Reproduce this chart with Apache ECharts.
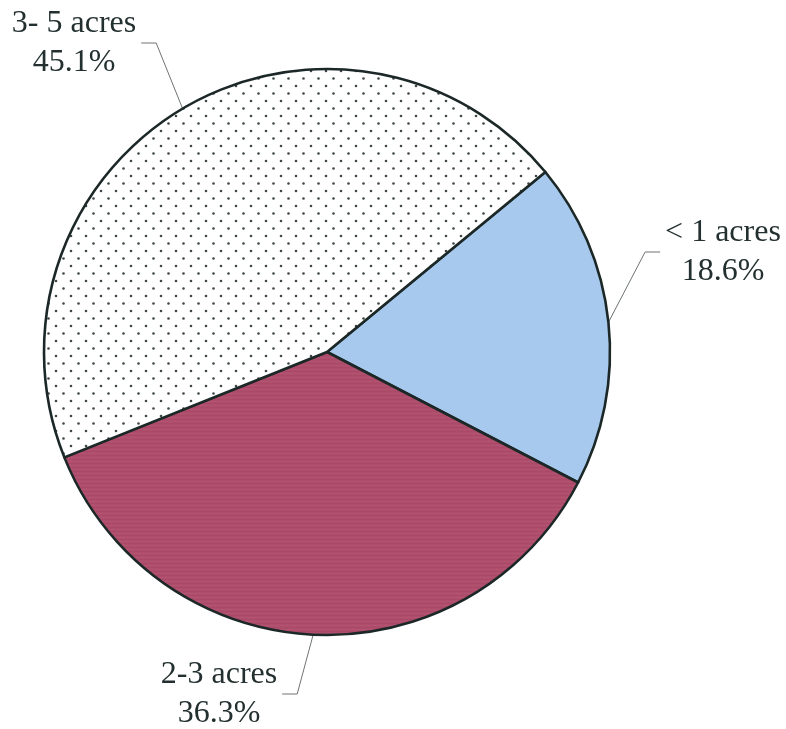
<!DOCTYPE html>
<html>
<head>
<meta charset="utf-8">
<script src="https://cdn.jsdelivr.net/npm/echarts@6/dist/echarts.min.js"></script>
<style>
  html, body { margin: 0; padding: 0; background: #ffffff; }
  #chart { width: 786px; height: 729px; }
</style>
</head>
<body>
<div id="chart"></div>
<script>
// Farm size classes and their share of holdings (%)
const categories = ['< 1 acres', '2-3 acres', '3- 5 acres'];
const shares = [18.6, 36.3, 45.1];

// Layout constants
const pieCenter = [327, 352];
const pieRadius = 283;
const labelCentres = [[723, 252], [219, 694], [74, 43]];
const leaderGap = 5;
const leaderLeg = 15;

// Dotted fill: staggered grid of small dark dots on white
function dotPattern() {
  const c = document.createElement('canvas');
  c.width = 15; c.height = 15;
  const g = c.getContext('2d');
  g.fillStyle = '#ffffff';
  g.fillRect(0, 0, 15, 15);
  g.fillStyle = '#3f4846';
  [[3.5, 3.5], [11, 11]].forEach(function (p) {
    g.beginPath();
    g.arc(p[0], p[1], 1.3, 0, Math.PI * 2);
    g.fill();
  });
  return c;
}

// Maroon fill with faint horizontal banding
function bandPattern() {
  const c = document.createElement('canvas');
  c.width = 8; c.height = 4;
  const g = c.getContext('2d');
  g.fillStyle = '#ae4e6c';
  g.fillRect(0, 0, 8, 4);
  g.fillStyle = '#b25372';
  g.fillRect(0, 1, 8, 1);
  g.fillStyle = '#aa4a68';
  g.fillRect(0, 3, 8, 1);
  return c;
}

const sliceFills = [
  '#a8c9ee',
  { image: bandPattern(), repeat: 'repeat' },
  { image: dotPattern(), repeat: 'repeat' }
];

const chart = echarts.init(document.getElementById('chart'), null, { renderer: 'canvas' });

chart.setOption({
  animation: false,
  backgroundColor: '#ffffff',
  series: [{
    type: 'pie',
    center: pieCenter,
    radius: pieRadius,
    startAngle: 39.5,
    clockwise: true,
    avoidLabelOverlap: false,
    silent: true,
    emphasis: { disabled: true },
    data: categories.map(function (name, i) {
      return { name: name, value: shares[i], itemStyle: { color: sliceFills[i] } };
    }),
    itemStyle: {
      borderColor: '#1c2827',
      borderWidth: 2.6
    },
    label: {
      show: true,
      position: 'outside',
      formatter: function (p) { return p.name + '\n' + p.value.toFixed(1) + '%'; },
      fontFamily: '"Liberation Serif", "Times New Roman", serif',
      fontSize: 32,
      lineHeight: 39,
      color: '#243030'
    },
    labelLine: {
      show: true,
      length: 40,
      length2: 15,
      smooth: false,
      lineStyle: { color: '#6e7472', width: 1 }
    },
    labelLayout: function (p) {
      const c = labelCentres[p.dataIndex];
      const w = p.labelRect.width;
      const onRight = c[0] > pieCenter[0];
      const endX = onRight ? c[0] - w / 2 - leaderGap : c[0] + w / 2 + leaderGap;
      const bendX = onRight ? endX - leaderLeg : endX + leaderLeg;
      return {
        x: c[0],
        y: c[1],
        align: 'center',
        verticalAlign: 'middle',
        labelLinePoints: [p.labelLinePoints[0], [bendX, c[1]], [endX, c[1]]]
      };
    }
  }]
});
</script>
</body>
</html>
